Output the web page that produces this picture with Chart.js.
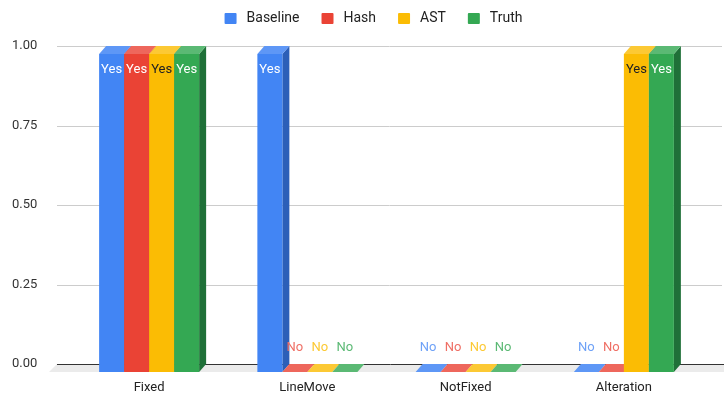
<!DOCTYPE html>
<html>
<head>
<meta charset="utf-8">
<script src="https://cdn.jsdelivr.net/npm/chart.js@4"></script>
<style>
  html, body { margin: 0; padding: 0; background: #fff; }
  #wrap { width: 724px; height: 400px; }
</style>
</head>
<body>
<div id="wrap"><canvas id="chart" width="724" height="400"></canvas></div>
<script>
const categories = ['Fixed', 'LineMove', 'NotFixed', 'Alteration'];
const seriesNames = ['Baseline', 'Hash', 'AST', 'Truth'];
const baseline = [1, 1, 0, 0];
const hash = [1, 0, 0, 0];
const ast = [1, 0, 0, 1];
const truth = [1, 0, 0, 1];
const yTicks = [0, 0.25, 0.5, 0.75, 1];

// front, top, side and label colours per series
const palette = [
    { front: '#4285f4', top: '#5e97f6', side: '#2c5fb8', label: '#6fa2f7', text: '#ffffff' },
    { front: '#ea4335', top: '#ee675c', side: '#b0312a', label: '#ef6f65', text: '#ffffff' },
    { front: '#fbbc04', top: '#fcc934', side: '#c49203', label: '#fcc934', text: '#202124' },
    { front: '#34a853', top: '#5bb974', side: '#1f7038', label: '#5bb974', text: '#ffffff' }
];

const DX = 7;   // depth offset of the front face
const DY = 8;

const allSeries = [baseline, hash, ast, truth];

// legend: fixed height, nudged into place
const legendPlace = {
    id: 'legendPlace',
    beforeInit(chart) {
        const lg = chart.legend;
        const fit = lg.fit;
        lg.fit = function () { fit.call(this); this.height = 46; };
        const draw = lg.draw;
        lg.draw = function () {
            this.ctx.save();
            this.ctx.translate(11, -9);
            draw.call(this);
            this.ctx.restore();
        };
    }
};

// the bars are drawn by hand as boxes, from the element geometry chart.js computes
const box3d = {
    id: 'box3d',
    beforeDatasetsDraw(chart) {
        const ctx = chart.ctx;
        const y = chart.scales.y;
        const zero = y.getPixelForValue(0);
        const gx0 = 57, gx1 = 722;

        ctx.save();
        // floor
        ctx.fillStyle = '#ebebeb';
        ctx.beginPath();
        ctx.moveTo(gx0, zero);
        ctx.lineTo(724, zero);
        ctx.lineTo(724, zero + DY);
        ctx.lineTo(gx0 - DX - 1, zero + DY);
        ctx.closePath();
        ctx.fill();

        // grid lines
        ctx.lineWidth = 1;
        yTicks.forEach(v => {
            const py = Math.round(y.getPixelForValue(v)) + 0.5;
            ctx.strokeStyle = v === 0 ? '#333333' : '#cccccc';
            ctx.beginPath();
            ctx.moveTo(gx0, py);
            ctx.lineTo(v === 0 ? 724 : gx1, py);
            ctx.stroke();
        });

        const metas = chart.data.datasets.map((d, i) => chart.getDatasetMeta(i));
        categories.forEach((c, idx) => {
            metas.forEach((meta, di) => {
                const el = meta.data[idx];
                const p = el.getProps(['x', 'y', 'base', 'width'], true);
                const col = palette[di];
                const l = p.x - p.width / 2, r = p.x + p.width / 2;
                const fl = l - DX, fr = r - DX, ft = p.y + DY, fb = p.base + DY;

                // right side
                ctx.fillStyle = col.side;
                ctx.beginPath();
                ctx.moveTo(fr, ft);
                ctx.lineTo(r, p.y);
                ctx.lineTo(r, p.base);
                ctx.lineTo(fr, fb);
                ctx.closePath();
                ctx.fill();

                // top
                ctx.fillStyle = col.top;
                ctx.beginPath();
                ctx.moveTo(fl, ft);
                ctx.lineTo(fr, ft);
                ctx.lineTo(r, p.y);
                ctx.lineTo(l, p.y);
                ctx.closePath();
                ctx.fill();

                // front
                if (fb - ft > 0) {
                    ctx.fillStyle = col.front;
                    ctx.fillRect(fl, ft, fr - fl, fb - ft);
                }
            });
        });

        // value labels
        ctx.font = '13px Roboto, Arial, sans-serif';
        ctx.textAlign = 'center';
        ctx.textBaseline = 'middle';
        metas.forEach((meta, di) => {
            meta.data.forEach((el, idx) => {
                const v = allSeries[di][idx];
                const p = el.getProps(['x', 'y', 'base'], true);
                const cx = p.x - DX;
                if (v > 0) {
                    ctx.fillStyle = palette[di].text;
                    ctx.fillText('Yes', cx, p.y + DY + 16);
                } else {
                    ctx.fillStyle = palette[di].label;
                    ctx.fillText('No', cx, p.base + DY - 24);
                }
            });
        });
        ctx.restore();
        return false;
    }
};

new Chart(document.getElementById('chart'), {
    type: 'bar',
    data: {
        labels: categories,
        datasets: allSeries.map((vals, i) => ({
            label: seriesNames[i],
            data: vals,
            backgroundColor: palette[i].front,
            borderColor: '#ffffff',
            borderWidth: 6,
            categoryPercentage: 0.632,
            barPercentage: 1
        }))
    },
    options: {
        responsive: false,
        animation: false,
        layout: { padding: { top: 0, right: 14, bottom: 0, left: 12 } },
        plugins: {
            legend: {
                position: 'top',
                labels: {
                    boxWidth: 18,
                    boxHeight: 17,
                    padding: 19,
                    useBorderRadius: true,
                    borderRadius: 4,
                    color: '#222222',
                    font: { family: 'Roboto', size: 14 }
                }
            },
            tooltip: { enabled: false }
        },
        scales: {
            x: {
                grid: { display: false, drawTicks: false },
                border: { display: false },
                ticks: {
                    labelOffset: -DX,
                    padding: 16,
                    color: '#222222',
                    font: { family: 'Roboto', size: 13 }
                },
                afterFit(s) { s.height = 36; }
            },
            y: {
                min: 0,
                max: 1,
                grid: { display: false, drawTicks: false },
                border: { display: false },
                ticks: {
                    stepSize: 0.25,
                    padding: 0,
                    crossAlign: 'far',
                    color: '#333333',
                    font: { family: 'Roboto', size: 13 },
                    callback: v => v.toFixed(2)
                },
                afterFit(s) { s.width = 65; }
            }
        }
    },
    plugins: [legendPlace, box3d]
});
</script>
</body>
</html>
